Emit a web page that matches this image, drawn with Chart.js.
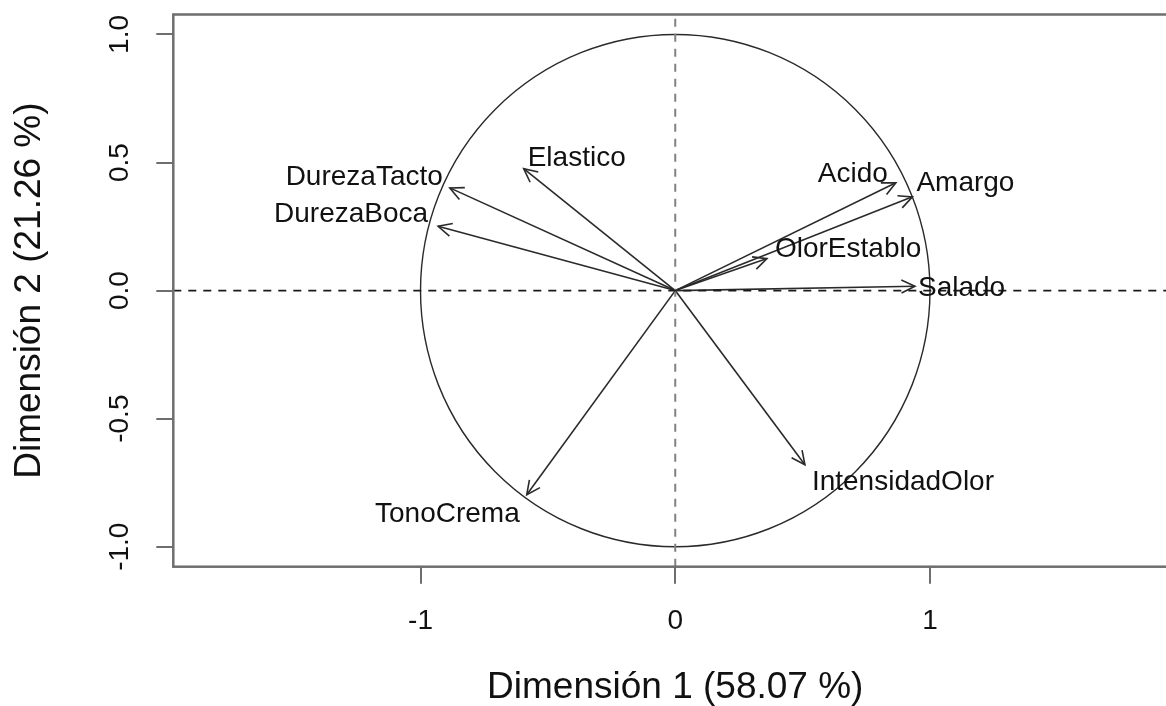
<!DOCTYPE html>
<html>
<head>
<meta charset="utf-8">
<script src="https://cdn.jsdelivr.net/npm/chart.js@4/dist/chart.umd.min.js"></script>
<style>
  html, body { margin: 0; padding: 0; background: #fff; overflow: hidden; }
  #wrap { width: 1200px; height: 706px; position: relative; }
</style>
</head>
<body>
<div id="wrap"><canvas id="c" width="1200" height="706"></canvas></div>
<script>
// Correlation circle: loadings of each sensory variable on the first two dimensions
const variables = ['DurezaTacto', 'DurezaBoca', 'Elastico', 'Acido', 'Amargo', 'OlorEstablo', 'Salado', 'IntensidadOlor', 'TonoCrema'];
const dim1 = [-0.885, -0.931, -0.595, 0.866, 0.931, 0.360, 0.941, 0.509, -0.583];
const dim2 = [0.401, 0.251, 0.476, 0.421, 0.366, 0.125, 0.017, -0.680, -0.797];

const xTicks = [-1, 0, 1];
const xTickLabels = ['-1', '0', '1'];
const yTicks = [-1, -0.5, 0, 0.5, 1];
const yTickLabels = ['-1.0', '-0.5', '0.0', '0.5', '1.0'];
const xRange = [-1.9705, 1.9705];
const yRange = [-1.078, 1.078];
const xTitle = 'Dimensión 1 (58.07 %)';
const yTitle = 'Dimensión 2 (21.26 %)';

// Label placement relative to each arrow tip (text baseline, pixels)
const labelAlign = ['right', 'right', 'left', 'right', 'left', 'left', 'left', 'left', 'right'];
const labelDx = [-7, -10, 4, -8, 4, 8, 3, 7, -7];
const labelDy = [-3, -4, -3, -1, -6, -2, 10, 25, 27];

const FONT = "'Liberation Sans', Arial, Helvetica, sans-serif";
const AXIS_COLOR = '#6e6e6e';
const ARROW_COLOR = '#2a2a2a';

const arrowSets = variables.map((name, i) => ({
  label: name,
  data: [{ x: 0, y: 0 }, { x: dim1[i], y: dim2[i] }],
  showLine: true,
  borderColor: ARROW_COLOR,
  borderWidth: 1.6,
  pointRadius: 0,
  fill: false,
  isArrow: true
}));

const refLines = [
  {
    label: 'h0',
    data: [{ x: xRange[0], y: 0 }, { x: xRange[1], y: 0 }],
    showLine: true, borderColor: '#1a1a1a', borderWidth: 1.6, borderDash: [8, 7], pointRadius: 0
  },
  {
    label: 'v0',
    data: [{ x: 0, y: yRange[0] }, { x: 0, y: yRange[1] }],
    showLine: true, borderColor: '#808080', borderWidth: 2, borderDash: [8, 7], pointRadius: 0
  }
];

const circlePlugin = {
  id: 'unitCircle',
  beforeDatasetsDraw(chart) {
    const { ctx, scales: { x, y } } = chart;
    const cx = x.getPixelForValue(0), cy = y.getPixelForValue(0);
    const rx = x.getPixelForValue(1) - cx, ry = cy - y.getPixelForValue(1);
    ctx.save();
    ctx.strokeStyle = '#2a2a2a';
    ctx.lineWidth = 1.4;
    ctx.beginPath();
    ctx.ellipse(cx, cy, rx, ry, 0, 0, Math.PI * 2);
    ctx.stroke();
    ctx.restore();
  }
};

const decorPlugin = {
  id: 'decor',
  afterDatasetsDraw(chart) {
    const { ctx, chartArea: a, scales: { x, y } } = chart;
    ctx.save();
    // arrow heads and variable names
    chart.data.datasets.forEach((ds, di) => {
      if (!ds.isArrow) return;
      const i = variables.indexOf(ds.label);
      const pts = chart.getDatasetMeta(di).data;
      const x0 = pts[0].x, y0 = pts[0].y, x1 = pts[1].x, y1 = pts[1].y;
      const ang = Math.atan2(y1 - y0, x1 - x0);
      const len = 15, spread = Math.PI / 7;
      ctx.strokeStyle = ARROW_COLOR;
      ctx.lineWidth = 1.6;
      ctx.beginPath();
      ctx.moveTo(x1 - len * Math.cos(ang - spread), y1 - len * Math.sin(ang - spread));
      ctx.lineTo(x1, y1);
      ctx.lineTo(x1 - len * Math.cos(ang + spread), y1 - len * Math.sin(ang + spread));
      ctx.stroke();

      ctx.fillStyle = '#111';
      ctx.font = '28px ' + FONT;
      ctx.textAlign = labelAlign[i];
      ctx.textBaseline = 'alphabetic';
      ctx.fillText(variables[i], x1 + labelDx[i], y1 + labelDy[i]);
    });

    // plot box
    ctx.strokeStyle = AXIS_COLOR;
    ctx.lineWidth = 2.5;
    ctx.strokeRect(a.left, a.top, a.right - a.left, a.bottom - a.top);

    // vertical-axis tick labels, written parallel to the axis
    ctx.fillStyle = '#111';
    ctx.font = '28px ' + FONT;
    ctx.textAlign = 'center';
    ctx.textBaseline = 'alphabetic';
    yTicks.forEach((v, k) => {
      const py = y.getPixelForValue(v);
      ctx.save();
      ctx.translate(128, py);
      ctx.rotate(-Math.PI / 2);
      ctx.fillText(yTickLabels[k], 0, 0);
      ctx.restore();
    });
    ctx.restore();
  }
};

new Chart(document.getElementById('c'), {
  type: 'scatter',
  data: { datasets: [...refLines, ...arrowSets] },
  options: {
    responsive: false,
    animation: false,
    devicePixelRatio: 1,
    layout: { padding: { left: 0, top: 14.5, right: 22.8, bottom: 0 } },
    plugins: { legend: { display: false }, tooltip: { enabled: false } },
    scales: {
      x: {
        type: 'linear',
        min: xRange[0],
        max: xRange[1],
        afterBuildTicks: s => { s.ticks = xTicks.map(v => ({ value: v })); },
        afterFit: s => { s.height = 139.3; },
        grid: { drawOnChartArea: false, drawTicks: true, tickLength: 17, color: AXIS_COLOR, lineWidth: 2 },
        border: { display: false },
        ticks: {
          font: { family: FONT, size: 28 },
          color: '#111',
          padding: 21,
          minRotation: 0,
          maxRotation: 0,
          autoSkip: false,
          callback: v => xTickLabels[xTicks.indexOf(v)]
        },
        title: {
          display: true,
          text: xTitle,
          color: '#111',
          font: { family: FONT, size: 37, lineHeight: 1 },
          padding: { top: 0, bottom: 0 }
        }
      },
      y: {
        type: 'linear',
        min: yRange[0],
        max: yRange[1],
        afterBuildTicks: s => { s.ticks = yTicks.map(v => ({ value: v })); },
        afterFit: s => { s.width = 173.3; },
        grid: { drawOnChartArea: false, drawTicks: true, tickLength: 17, color: AXIS_COLOR, lineWidth: 2 },
        border: { display: false },
        ticks: { display: false },
        title: {
          display: true,
          text: yTitle,
          color: '#111',
          font: { family: FONT, size: 37, lineHeight: 1 },
          padding: { top: 11, bottom: 0 }
        }
      }
    }
  },
  plugins: [circlePlugin, decorPlugin]
});
</script>
</body>
</html>
